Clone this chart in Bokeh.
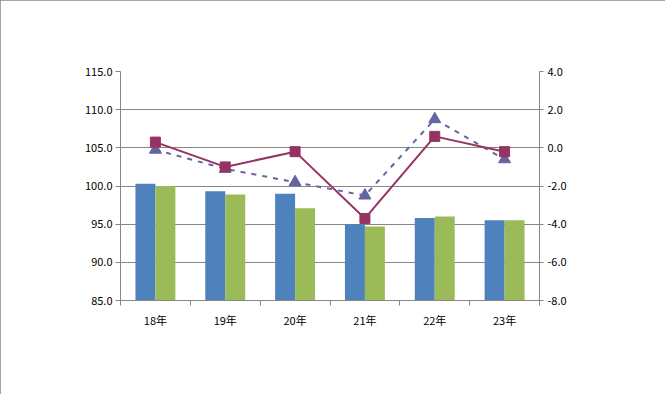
import numpy as np
from bokeh.plotting import figure
from bokeh.models import (Range1d, LinearAxis, FixedTicker, NumeralTickFormatter,
                          Label, Legend, LegendItem, ColumnDataSource)
from bokeh.embed import file_html
from bokeh.resources import INLINE

years = ["18年", "19年", "20年", "21年", "22年", "23年"]
nominal_index = [100.3, 99.3, 99.0, 95.0, 95.8, 95.5]
real_index = [100.0, 98.9, 97.1, 94.7, 96.0, 95.5]
nominal_yoy = [0.3, -1.0, -0.2, -3.7, 0.6, -0.2]
real_yoy = [-0.1, -1.1, -1.8, -2.5, 1.5, -0.6]
left_ticks = [85, 90, 95, 100, 105, 110, 115]
right_ticks = [-8, -6, -4, -2, 0, 2, 4]

FONT = "Noto Sans CJK JP"
BLUE = "#4F81BD"
GREEN = "#9BBB59"
MAG = "#953462"
SLATE = "#6464A0"
GRID = "#868686"

n = len(years)
centers = np.arange(n) + 0.5
bw = 0.286

p = figure(width=665, height=394, output_backend="svg", toolbar_location=None,
           x_range=Range1d(0, n), y_range=Range1d(left_ticks[0], left_ticks[-1]),
           x_axis_location=None, y_axis_location=None,
           min_border_left=120, min_border_right=126, min_border_top=71,
           min_border_bottom=94)
p.extra_y_ranges = {"pct": Range1d(right_ticks[0], right_ticks[-1])}
p.outline_line_color = None
p.background_fill_color = "white"
p.border_fill_color = "white"
p.styles = {"outline": "1px solid #868686", "outline-offset": "-1px"}

p.xgrid.visible = False
p.ygrid.ticker = FixedTicker(ticks=left_ticks)
p.ygrid.grid_line_color = GRID
p.ygrid.grid_line_width = 1

# axes
ly = LinearAxis(ticker=FixedTicker(ticks=left_ticks),
                formatter=NumeralTickFormatter(format="0.0"))
ly.axis_line_color = GRID
ly.major_tick_line_color = GRID
ly.major_tick_out = 5
ly.major_tick_in = 0
ly.minor_tick_line_color = None
ly.major_label_standoff = 3
ly.major_label_text_font = FONT
ly.major_label_text_font_size = "11px"
ly.major_label_text_color = "black"
p.add_layout(ly, "left")

ry = LinearAxis(y_range_name="pct", ticker=FixedTicker(ticks=right_ticks),
                formatter=NumeralTickFormatter(format="0.0"))
ry.axis_line_color = GRID
ry.major_tick_line_color = GRID
ry.major_tick_out = 4
ry.major_tick_in = 0
ry.minor_tick_line_color = None
ry.major_label_standoff = 4
ry.major_label_text_font = FONT
ry.major_label_text_font_size = "11px"
ry.major_label_text_color = "black"
p.add_layout(ry, "right")

xa = LinearAxis(ticker=FixedTicker(ticks=list(range(n + 1))))
xa.axis_line_color = GRID
xa.major_tick_line_color = GRID
xa.major_tick_out = 5
xa.major_tick_in = 0
xa.minor_tick_line_color = None
xa.major_label_overrides = {i: "" for i in range(n + 1)}
xa.major_label_text_font_size = "1px"
xa.major_label_standoff = 0
p.add_layout(xa, "below")

xb = LinearAxis(ticker=FixedTicker(ticks=list(centers)))
xb.axis_line_color = None
xb.major_tick_line_color = None
xb.minor_tick_line_color = None
xb.major_label_overrides = {float(c): y for c, y in zip(centers, years)}
xb.major_label_text_font = FONT
xb.major_label_text_font_size = "11px"
xb.major_label_text_color = "black"
xb.major_label_standoff = 0
p.add_layout(xb, "below")

src = ColumnDataSource(dict(xn=centers - bw / 2, xr=centers + bw / 2, xc=centers,
                            nom=nominal_index, real=real_index,
                            nyoy=nominal_yoy, ryoy=real_yoy))
b1 = p.vbar(x="xn", top="nom", bottom=left_ticks[0], width=bw, source=src,
            fill_color=BLUE, line_color=None)
b2 = p.vbar(x="xr", top="real", bottom=left_ticks[0], width=bw, source=src,
            fill_color=GREEN, line_color=None)

l2 = p.line(x="xc", y="ryoy", source=src, y_range_name="pct", line_color=SLATE,
            line_width=2, line_dash="5 6")
s2 = p.scatter(x="xc", y="ryoy", source=src, y_range_name="pct", marker="triangle",
               size=12, fill_color=SLATE, line_color=SLATE)
l1 = p.line(x="xc", y="nyoy", source=src, y_range_name="pct", line_color=MAG,
            line_width=2)
s1 = p.scatter(x="xc", y="nyoy", source=src, y_range_name="pct", marker="square",
               size=10, fill_color=MAG, line_color=MAG)

legend = Legend(items=[
    LegendItem(label="名目（指数）", renderers=[b1]),
    LegendItem(label="実質（指数）", renderers=[b2]),
    LegendItem(label="名目前年比（%）", renderers=[l1, s1]),
    LegendItem(label="実質前年比（%）", renderers=[l2, s2]),
], orientation="horizontal", location=(-68, -81), level="overlay")
legend.glyph_width = 40
legend.glyph_height = 8
legend.label_text_font = FONT
legend.label_text_font_size = "11px"
legend.label_standoff = 4
legend.spacing = 25
legend.padding = 0
legend.margin = 0
legend.border_line_color = None
legend.background_fill_alpha = 0
p.add_layout(legend, "center")

# titles (screen units are relative to the frame's bottom-left corner)
p.add_layout(Label(x=-20, y=278, x_units="screen", y_units="screen",
                   text="全国の現金給与額の動き", text_font=FONT,
                   text_font_size="24px", text_font_style="bold",
                   text_color="black", text_baseline="middle", level="overlay"))
p.add_layout(Label(x=242, y=277, x_units="screen", y_units="screen",
                   text="（事業所規模5人以上）", text_font=FONT,
                   text_font_size="17px", text_color="black",
                   text_baseline="middle", level="overlay"))
p.add_layout(Label(x=-41, y=249, x_units="screen", y_units="screen",
                   text="（指数）", text_font=FONT, text_font_size="12px",
                   text_font_style="bold", text_color="black",
                   text_baseline="middle", level="overlay"))
p.add_layout(Label(x=402, y=247, x_units="screen", y_units="screen",
                   text="（%）", text_font=FONT, text_font_size="12px",
                   text_font_style="bold", text_color="black",
                   text_baseline="middle", level="overlay"))

open("out.html", "w").write(file_html(p, INLINE))
